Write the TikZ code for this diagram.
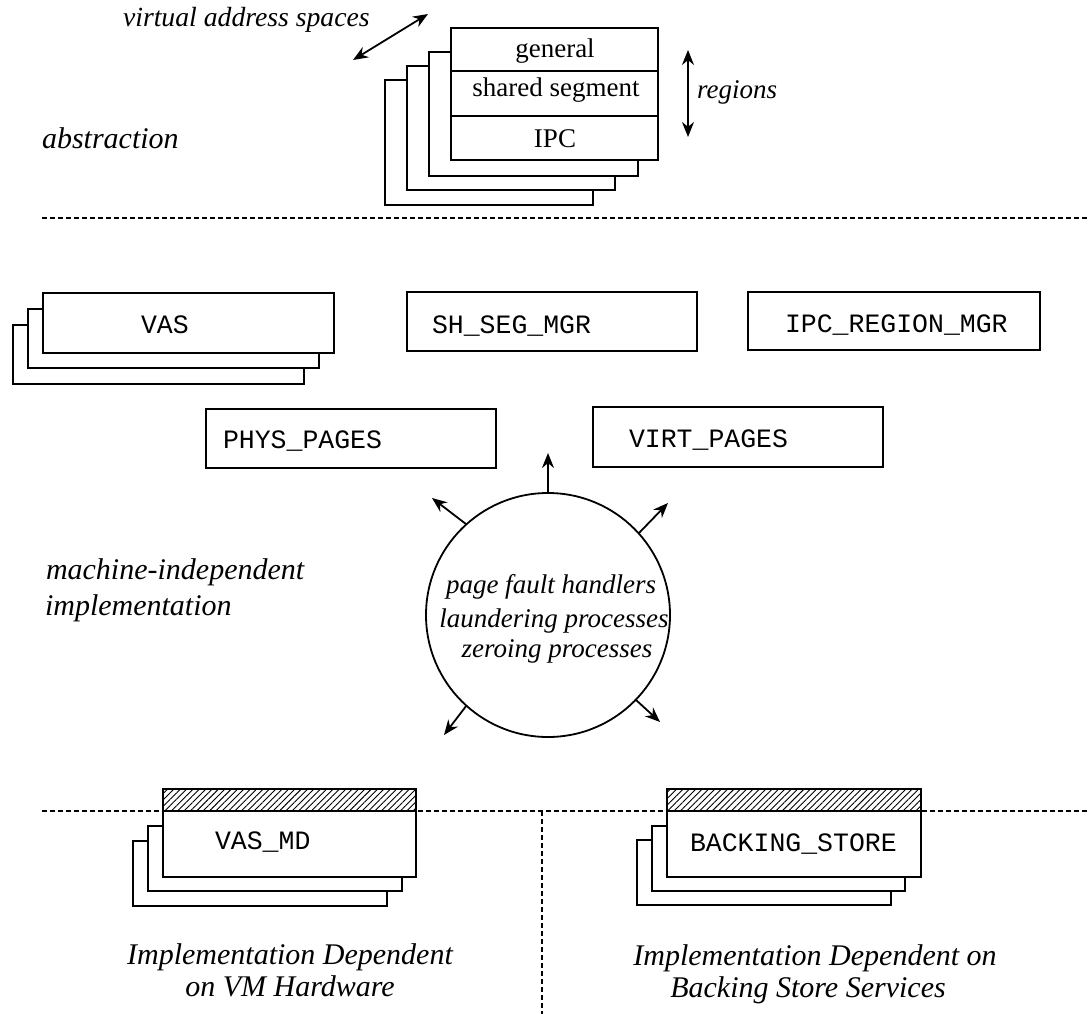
\documentclass[tikz,border=0pt]{standalone}
\usepackage{fontspec}
\setmainfont{Liberation Serif}
\setmonofont{Liberation Mono}
\usetikzlibrary{arrows.meta,patterns.meta}
\begin{document}
\begin{tikzpicture}[x=1pt,y=-1pt,
  every node/.style={inner sep=0pt, outer sep=0pt},
  box/.style={draw, line width=1.8pt, fill=white, anchor=north west, inner sep=0pt},
  hatchbox/.style={draw, line width=1.8pt, anchor=north west, inner sep=0pt,
    pattern={Lines[angle=45,distance=4.5pt,line width=0.9pt]}},
  rm/.style={font=\fontsize{27}{32}\selectfont},
  itl/.style={font=\fontsize{27}{32}\selectfont\itshape},
  itlL/.style={font=\fontsize{30}{34}\selectfont\itshape},
  mono/.style={font=\fontsize{26.5}{30}\selectfont\ttfamily},
  dline/.style={line width=1.3pt, dash pattern=on 5pt off 3pt},
  arr/.style={line width=1.8pt, -{Stealth[length=15pt,width=12pt]}},
  darr/.style={line width=1.8pt, {Stealth[length=15pt,width=12pt]}-{Stealth[length=15pt,width=12pt]}},
]
\fill[white] (0,0) rectangle (1089,1014);
\useasboundingbox (0,0) rectangle (1089,1014);

% ---------- abstraction layer ----------
\node[itl, font=\fontsize{27.7}{32}\selectfont\itshape, anchor=base west] (vaslbl) at (123,27) {virtual address spaces};
\coordinate (va1) at (353,60);
\coordinate (va2) at (428,14);
\draw[darr] (va1) -- (va2);

\node[box, minimum width=208, minimum height=125] (t4) at (385,80) {};
\node[box, minimum width=208, minimum height=124] (t3) at (407,66) {};
\node[box, minimum width=209, minimum height=124] (t2) at (429,52) {};
\node[box, minimum width=207, minimum height=43] (tgen) at (451,28) {};
\node[box, minimum width=207, minimum height=45] (tshr) at (451,71) {};
\node[box, minimum width=207, minimum height=44] (tipc) at (451,116) {};
\node[rm, anchor=base] (tgent) at (555,58) {general};
\node[rm, anchor=base] (tshrt) at (556,97) {shared segment};
\node[rm, anchor=base] (tipct) at (555,147) {IPC};

\coordinate (rg1) at (688,50);
\coordinate (rg2) at (688,137);
\draw[darr] (rg1) -- (rg2);
\node[itl, anchor=base west] (rglbl) at (697,99) {regions};

\node[itlL, anchor=base west] (abst) at (42,149) {abstraction};

\coordinate (d1a) at (42,218);
\coordinate (d1b) at (1089,218);
\draw[dline] (d1a) -- (d1b);

% ---------- machine-independent layer ----------
\node[box, minimum width=291, minimum height=59] (v3) at (13,325) {};
\node[box, minimum width=291, minimum height=59] (v2) at (28,309) {};
\node[box, minimum width=291, minimum height=60] (vas) at (43,293) {};
\node[mono, anchor=base west] (vast) at (141,333) {VAS};

\node[box, minimum width=290, minimum height=59] (shs) at (407,292) {};
\node[mono, anchor=base west] (shst) at (432,333) {SH\_SEG\_MGR};

\node[box, minimum width=292, minimum height=58] (ipr) at (748,292) {};
\node[mono, anchor=base west] (iprt) at (785,332) {IPC\_REGION\_MGR};

\node[box, minimum width=290, minimum height=59] (php) at (206,409) {};
\node[mono, anchor=base west] (phpt) at (223,448) {PHYS\_PAGES};

\node[box, minimum width=290, minimum height=60] (vip) at (593,407) {};
\node[mono, anchor=base west] (vipt) at (629,447) {VIRT\_PAGES};

\node[draw, line width=1.8pt, circle, minimum size=244] (circ) at (548,615) {};
\node[itl, anchor=base] (pf1) at (551,593) {page fault handlers};
\node[itl, anchor=base] (pf2) at (554,627) {laundering processes};
\node[itl, anchor=base] (pf3) at (557,657) {zeroing processes};

\coordinate (aup) at (548,453);
\coordinate (aul) at (432,498);
\coordinate (aur) at (668,503);
\coordinate (alr) at (660,722);
\coordinate (all) at (444,735);
\draw[arr] (circ.north) -- (aup);
\draw[arr] (circ.132) -- (aul);
\draw[arr] (circ.42) -- (aur);
\draw[arr] (circ.-44) -- (alr);
\draw[arr] (circ.-132) -- (all);

\node[itlL, anchor=base west] (mi1) at (46,579) {machine-independent};
\node[itlL, anchor=base west] (mi2) at (45,615) {implementation};

% ---------- machine-dependent layer ----------
\coordinate (d2a) at (42,811);
\coordinate (d2b) at (1089,811);
\draw[dline] (d2a) -- (d2b);
\coordinate (d3a) at (542,811);
\coordinate (d3b) at (542,1014);
\draw[dline] (d3a) -- (d3b);

\node[box, minimum width=254, minimum height=65] (m3) at (133,841) {};
\node[box, minimum width=254, minimum height=65] (m2) at (148,826) {};
\node[hatchbox, minimum width=253, minimum height=22] (mh) at (163,789) {};
\node[box, minimum width=253, minimum height=66] (md) at (163,811) {};
\node[mono, anchor=base west] (mdt) at (215,849) {VAS\_MD};

\node[box, minimum width=254, minimum height=65] (k3) at (637,840) {};
\node[box, minimum width=253, minimum height=65] (k2) at (652,826) {};
\node[hatchbox, minimum width=254, minimum height=22] (kh) at (667,789) {};
\node[box, minimum width=254, minimum height=66] (bs) at (667,811) {};
\node[mono, anchor=base west] (bst) at (690,851) {BACKING\_STORE};

\node[itlL, anchor=base] (c1a) at (290,964) {Implementation Dependent};
\node[itlL, anchor=base] (c1b) at (290,996) {on VM Hardware};
\node[itlL, anchor=base] (c2a) at (815,965) {Implementation Dependent on};
\node[itlL, anchor=base] (c2b) at (808,997) {Backing Store Services};
\end{tikzpicture}
\end{document}
